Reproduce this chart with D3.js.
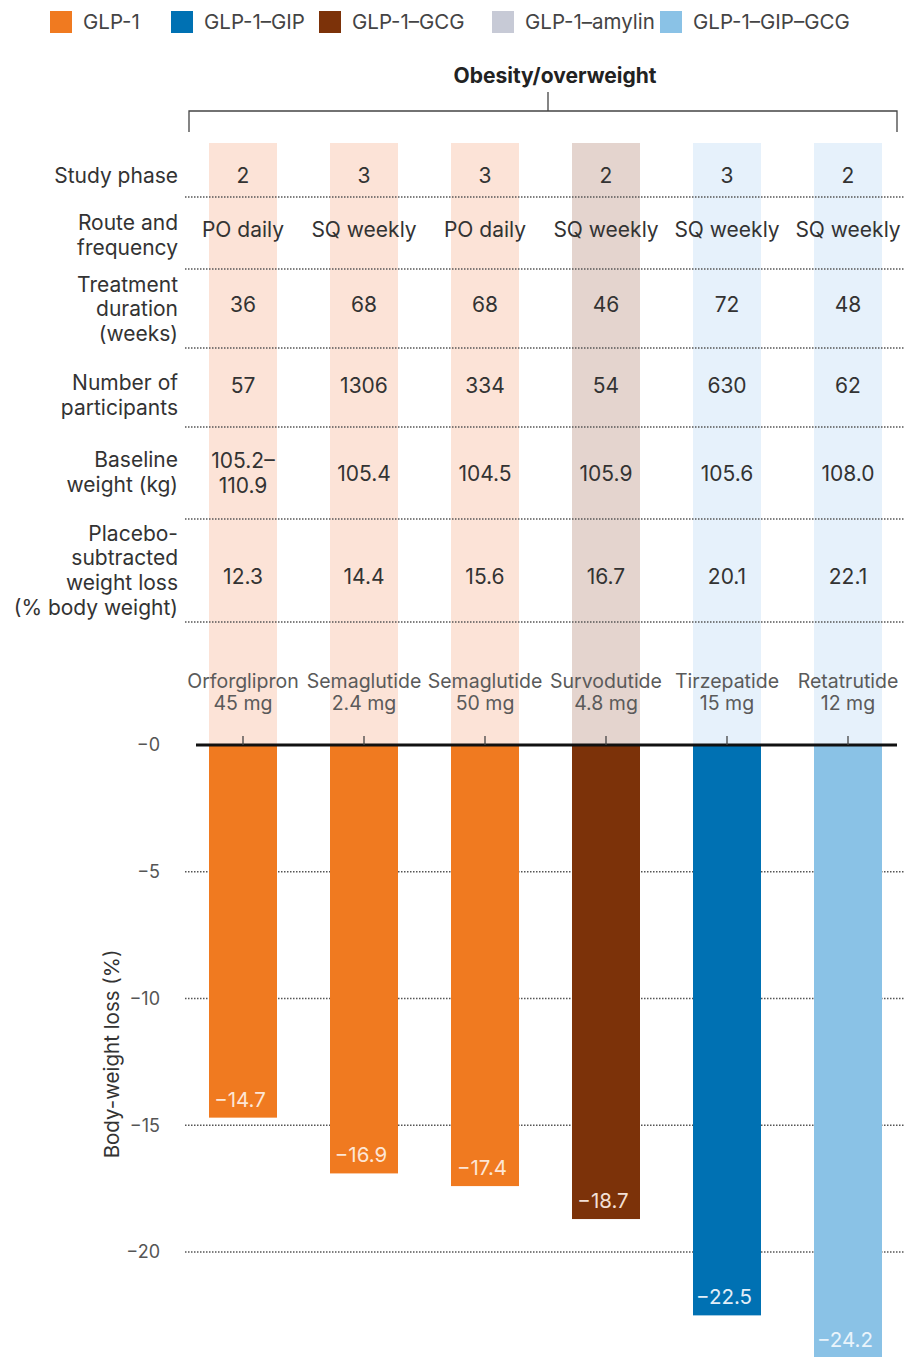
<!DOCTYPE html>
<html><head><meta charset="utf-8">
<script src="https://cdn.jsdelivr.net/npm/d3@7"></script>
<style>body{margin:0;background:#fff;} svg{display:block;font-family:Inter, "Open Sans", sans-serif;}</style>
</head><body><svg id="c" width="905" height="1357"></svg>
<script>
const legendNames = ["GLP-1","GLP-1–GIP","GLP-1–GCG","GLP-1–amylin","GLP-1–GIP–GCG"];
const legendColors = ["#F07A20","#0071B3","#7C3209","#C7CAD6","#8AC2E6"];
const drugs = ["Orforglipron","Semaglutide","Semaglutide","Survodutide","Tirzepatide","Retatrutide"];
const doses = ["45 mg","2.4 mg","50 mg","4.8 mg","15 mg","12 mg"];
const classes = ["GLP-1","GLP-1","GLP-1","GLP-1–GCG","GLP-1–GIP","GLP-1–GIP–GCG"];
const weightLoss = [-14.7,-16.9,-17.4,-18.7,-22.5,-24.2];
const studyPhase = ["2","3","3","2","3","2"];
const route = ["PO daily","SQ weekly","PO daily","SQ weekly","SQ weekly","SQ weekly"];
const duration = ["36","68","68","46","72","48"];
const participants = ["57","1306","334","54","630","62"];
const baseline = [["105.2–","110.9"],["105.4"],["104.5"],["105.9"],["105.6"],["108.0"]];
const placebo = ["12.3","14.4","15.6","16.7","20.1","22.1"];
const yTicks = [0,-5,-10,-15,-20];
const yTickLabels = ["−0","−5","−10","−15","−20"];
const bandColors = {"GLP-1":"#FCE3D7","GLP-1–GCG":"#E4D4CE","GLP-1–GIP":"#E6F1FB","GLP-1–GIP–GCG":"#E6F1FB"};
const labelColors = {"GLP-1":"#FDE6D6","GLP-1–GCG":"#F3E0D6","GLP-1–GIP":"#E2EEF8","GLP-1–GIP–GCG":"#EAF4FB"};

const svg = d3.select("#c");
const color = d3.scaleOrdinal().domain(legendNames).range(legendColors);
const idx = d3.range(drugs.length);
const x = d3.scalePoint().domain(idx).range([243, 848]);
const bw = 68;
const y = d3.scaleLinear().domain([0,-25]).range([745, 745+25*25.35]);

// legend
const legX = [50,171,319,492,660];
const lg = svg.append("g");
legendNames.forEach((n,i)=>{
  lg.append("rect").attr("x",legX[i]).attr("y",11).attr("width",22).attr("height",22).attr("fill",color(n));
  lg.append("text").attr("x",legX[i]+33).attr("y",29).attr("font-size",20.5).attr("fill","#444").text(n);
});

// title + bracket
svg.append("text").attr("x",555).attr("y",83).attr("text-anchor","middle").attr("font-size",21).attr("font-weight","bold").attr("fill","#222").text("Obesity/overweight");
svg.append("path").attr("d","M189,132 V111 H897 V132 M548,111 V92").attr("fill","none").attr("stroke","#444").attr("stroke-width",1.3);

// bands
svg.append("g").selectAll("rect").data(idx).join("rect")
  .attr("x",i=>x(i)-bw/2).attr("y",143).attr("width",bw).attr("height",745-143)
  .attr("fill",i=>bandColors[classes[i]]);

// table rows
const rows = [
  {label:["Study phase"], vals:studyPhase.map(v=>[v]), ly:176, vy:176, line:197},
  {label:["Route and","frequency"], vals:route.map(v=>[v]), ly:235, vy:230, line:269},
  {label:["Treatment","duration","(weeks)"], vals:duration.map(v=>[v]), ly:309, vy:305, line:348},
  {label:["Number of","participants"], vals:participants.map(v=>[v]), ly:395, vy:386, line:427},
  {label:["Baseline","weight (kg)"], vals:baseline, ly:472, vy:474, line:519},
  {label:["Placebo-","subtracted","weight loss","(% body weight)"], vals:placebo.map(v=>[v]), ly:570.5, vy:577, line:622}
];
const lh = 24.8;
const tg = svg.append("g").attr("font-size",21).attr("fill","#333");
rows.forEach(r=>{
  const n = r.label.length;
  r.label.forEach((t,k)=>{
    tg.append("text").attr("x",178).attr("y",r.ly+(k-(n-1)/2)*lh).attr("dy","0.35em").attr("text-anchor","end").text(t);
  });
  r.vals.forEach((v,i)=>{
    const m=v.length;
    v.forEach((t,k)=>{
      tg.append("text").attr("x",x(i)).attr("y",r.vy+(k-(m-1)/2)*lh-(m>1?1:0)).attr("dy","0.35em").attr("text-anchor","middle").text(t);
    });
  });
  svg.append("line").attr("x1",185).attr("x2",905).attr("y1",r.line).attr("y2",r.line)
    .attr("stroke","#555").attr("stroke-width",1.5).attr("stroke-dasharray","1.5,1.5");
});

// drug labels
const dg = svg.append("g").attr("font-size",19.5).attr("fill","#5a5a5a").attr("text-anchor","middle");
idx.forEach(i=>{
  dg.append("text").attr("x",x(i)).attr("y",688).text(drugs[i]);
  dg.append("text").attr("x",x(i)).attr("y",710).text(doses[i]);
});

// grid lines
const yAxis = d3.axisLeft(y).tickValues(yTicks).tickFormat((d,i)=>yTickLabels[i]).tickSize(0).tickPadding(0);
const ga = svg.append("g").attr("transform","translate(160,0)").call(yAxis);
ga.select(".domain").remove();
ga.selectAll("text").attr("font-size",18).attr("fill","#555").attr("font-family","Inter, 'Open Sans', sans-serif");
svg.append("g").selectAll("line").data(yTicks.filter(d=>d!==0)).join("line")
  .attr("x1",185).attr("x2",905).attr("y1",d=>y(d)).attr("y2",d=>y(d))
  .attr("stroke","#555").attr("stroke-width",1.5).attr("stroke-dasharray","1.5,1.5");

// bars
svg.append("g").selectAll("rect").data(idx).join("rect")
  .attr("x",i=>x(i)-bw/2).attr("y",y(0)).attr("width",bw).attr("height",i=>y(weightLoss[i])-y(0))
  .attr("fill",i=>color(classes[i]));
svg.append("g").attr("font-size",20.5).attr("text-anchor","middle").selectAll("text").data(idx).join("text")
  .attr("x",i=>x(i)-3).attr("y",i=>y(weightLoss[i])-11)
  .attr("fill",i=>labelColors[classes[i]])
  .text(i=>"−"+Math.abs(weightLoss[i]).toFixed(1));

// zero line + ticks
svg.append("line").attr("x1",196).attr("x2",897).attr("y1",y(0)).attr("y2",y(0)).attr("stroke","#111").attr("stroke-width",3);
svg.append("g").selectAll("line").data(idx).join("line")
  .attr("x1",i=>x(i)).attr("x2",i=>x(i)).attr("y1",y(0)-9).attr("y2",y(0))
  .attr("stroke","#444").attr("stroke-width",1.3);

// y title
svg.append("text").attr("transform","translate(119,1054) rotate(-90)").attr("text-anchor","middle")
  .attr("font-size",20.5).attr("fill","#333").text("Body-weight loss (%)");
</script></body></html>
